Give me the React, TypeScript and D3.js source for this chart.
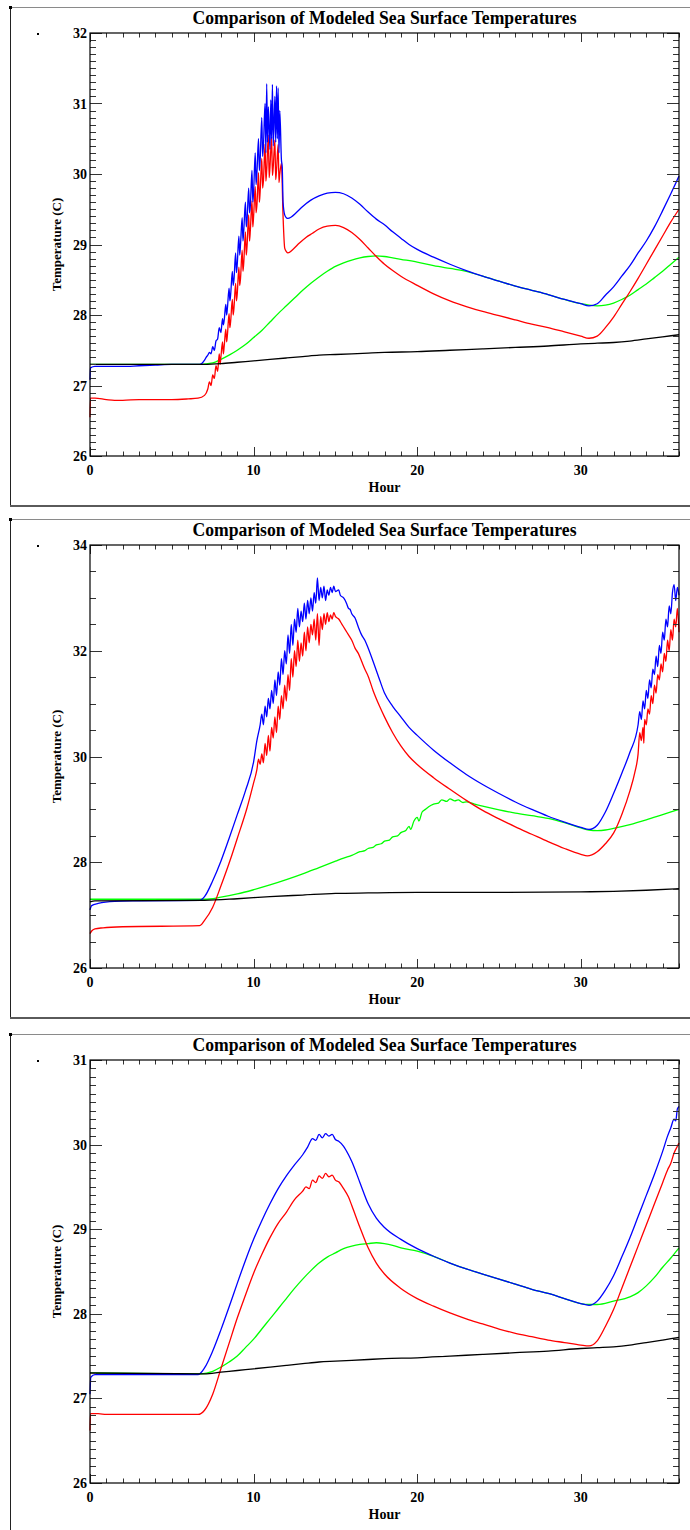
import React from "react";
import * as d3 from "d3";

type Pt = [number, number];

// ---------- tick labels ----------
const xTickLabels = [0, 10, 20, 30];
const p1YTicks = [26, 27, 28, 29, 30, 31, 32];
const p2YTicks = [26, 28, 30, 32, 34];
const p3YTicks = [26, 27, 28, 29, 30, 31];

const TITLE = "Comparison of Modeled Sea Surface Temperatures";
const XTITLE = "Hour";
const YTITLE = "Temperature (C)";

// ---------- Panel 1 ----------
const p1Blue: Pt[] = [
  [0, 27.08], [0.03, 27.25], [0.3, 27.27], [1, 27.27], [2, 27.27], [3, 27.28], [4, 27.29], [5, 27.3], [6, 27.3], [6.7, 27.3],
  [7.0, 27.36], [7.1, 27.4], [7.2, 27.43], [7.3, 27.47], [7.4, 27.45], [7.5, 27.55], [7.6, 27.5], [7.7, 27.63], [7.8, 27.66], [7.9, 27.82],
  [8.0, 27.75], [8.1, 27.95], [8.15, 27.86], [8.2, 27.92], [8.3, 28.15], [8.35, 28.0], [8.4, 28.1], [8.5, 28.38], [8.55, 28.2], [8.6, 28.3],
  [8.7, 28.62], [8.75, 28.42], [8.8, 28.5], [8.9, 28.88], [8.95, 28.6], [9.0, 28.72], [9.1, 29.12], [9.15, 28.85], [9.2, 29.0], [9.3, 29.38],
  [9.35, 29.05], [9.4, 29.2], [9.5, 29.6], [9.55, 29.25], [9.6, 29.35], [9.7, 29.8], [9.75, 29.45], [9.8, 29.55], [9.9, 30.05], [9.95, 29.6],
  [10.0, 29.75], [10.1, 30.3], [10.15, 29.85], [10.2, 30.0], [10.3, 30.5], [10.35, 30.05], [10.4, 30.2], [10.5, 30.8], [10.55, 30.25], [10.6, 30.4],
  [10.7, 31.0], [10.75, 30.3], [10.8, 31.28], [10.85, 30.45], [10.9, 30.95], [11.0, 30.35], [11.05, 31.05], [11.1, 30.5], [11.15, 31.27], [11.2, 30.4],
  [11.3, 31.1], [11.35, 30.45], [11.4, 31.25], [11.45, 30.5], [11.5, 31.22], [11.55, 30.3], [11.6, 30.9], [11.7, 30.2], [11.75, 30.1], [11.8, 29.6],
  [11.9, 29.42], [12.0, 29.38], [12.1, 29.37],
  [12.3, 29.39], [12.6, 29.45], [13.0, 29.54], [13.5, 29.63], [14.0, 29.69], [14.5, 29.73], [15.0, 29.74], [15.5, 29.72], [16.0, 29.66], [16.5, 29.57],
  [17.0, 29.46], [17.5, 29.36], [18.0, 29.28], [18.5, 29.18], [19.0, 29.09], [19.5, 29.0], [20, 28.93], [21, 28.82], [22, 28.72], [23, 28.63],
  [24, 28.55], [25, 28.48], [26, 28.41], [27, 28.35], [28, 28.29], [29, 28.22], [30, 28.16], [30.5, 28.13], [31, 28.16], [31.5, 28.28],
  [32, 28.4], [32.5, 28.55], [33, 28.7], [33.5, 28.88], [34, 29.05], [34.5, 29.25], [35, 29.48], [35.5, 29.72], [36, 29.97],
];
const p1Red: Pt[] = [
  [0, 26.55], [0.03, 26.82], [0.3, 26.82], [1, 26.8], [1.5, 26.79], [2, 26.79], [3, 26.8], [4, 26.8], [5, 26.8], [6, 26.81], [6.6, 26.82],
  [7.0, 26.86], [7.2, 26.95], [7.3, 27.05], [7.4, 27.0], [7.5, 27.15], [7.6, 27.1], [7.7, 27.28], [7.8, 27.2], [7.9, 27.45],
  [7.95, 27.3], [8.0, 27.4], [8.1, 27.62], [8.15, 27.45], [8.2, 27.55], [8.3, 27.8], [8.35, 27.62], [8.4, 27.72], [8.5, 28.02], [8.55, 27.82],
  [8.6, 27.92], [8.7, 28.22], [8.75, 28.0], [8.8, 28.1], [8.9, 28.45], [8.95, 28.2], [9.0, 28.3], [9.1, 28.68], [9.15, 28.42], [9.2, 28.52],
  [9.3, 28.92], [9.35, 28.62], [9.4, 28.75], [9.5, 29.18], [9.55, 28.85], [9.6, 28.98], [9.7, 29.42], [9.75, 29.05], [9.8, 29.2], [9.9, 29.62],
  [9.95, 29.25], [10.0, 29.4], [10.1, 29.82], [10.15, 29.45], [10.2, 29.55], [10.3, 30.02], [10.35, 29.6], [10.4, 29.75], [10.5, 30.22], [10.55, 29.8],
  [10.6, 29.9], [10.7, 30.42], [10.75, 29.9], [10.8, 30.05], [10.9, 30.55], [10.95, 29.95], [11.0, 30.1], [11.1, 30.52], [11.15, 29.98], [11.2, 30.1],
  [11.3, 30.48], [11.35, 29.92], [11.4, 30.05], [11.5, 30.42], [11.55, 29.88], [11.6, 30.0], [11.7, 30.15], [11.8, 29.4], [11.9, 28.95],
  [12.0, 28.9], [12.1, 28.88], [12.4, 28.93], [12.8, 29.02], [13.2, 29.1], [13.6, 29.16], [14.0, 29.22], [14.5, 29.26], [15.0, 29.27], [15.5, 29.24],
  [16.0, 29.17], [16.5, 29.07], [17.0, 28.95], [17.5, 28.83], [18.0, 28.72], [18.5, 28.63], [19.0, 28.55], [20, 28.42], [21, 28.3], [22, 28.2],
  [23, 28.12], [24, 28.05], [25, 27.99], [26, 27.93], [27, 27.87], [28, 27.82], [29, 27.76], [30, 27.7], [30.5, 27.67], [31, 27.7],
  [31.5, 27.82], [32, 27.97], [32.5, 28.15], [33, 28.33], [33.5, 28.52], [34, 28.72], [34.5, 28.92], [35, 29.12], [35.5, 29.32], [36, 29.5],
];
const p1Green: Pt[] = [
  [0, 27.3], [3, 27.3], [6.7, 27.3], [7.5, 27.32], [8, 27.37], [8.5, 27.43], [9, 27.5], [9.5, 27.58], [10, 27.68], [10.5, 27.78],
  [11, 27.9], [11.5, 28.02], [12, 28.13], [12.5, 28.24], [13, 28.35], [13.5, 28.45], [14, 28.54], [14.5, 28.62], [15, 28.69], [15.5, 28.74],
  [16, 28.78], [16.5, 28.81], [17, 28.83], [17.5, 28.84], [18, 28.83], [18.5, 28.81], [19, 28.79], [20, 28.75], [21, 28.7], [22, 28.66],
  [23, 28.62], [24, 28.55], [25, 28.48], [26, 28.41], [27, 28.35], [28, 28.29], [29, 28.22], [30, 28.16], [30.5, 28.14], [31, 28.13],
  [31.5, 28.14], [32, 28.17], [32.5, 28.22], [33, 28.28], [33.5, 28.36], [34, 28.44], [34.5, 28.53], [35, 28.62], [35.5, 28.72], [36, 28.82],
];
const p1Black: Pt[] = [
  [0, 27.3], [7, 27.3], [8, 27.31], [9, 27.33], [10, 27.35], [11, 27.37], [12, 27.39], [13, 27.41], [14, 27.43], [15, 27.44],
  [16, 27.45], [17, 27.46], [18, 27.47], [20, 27.48], [22, 27.5], [24, 27.52], [26, 27.54], [28, 27.56], [30, 27.59], [31, 27.6],
  [32, 27.61], [33, 27.63], [34, 27.66], [35, 27.69], [36, 27.72],
];

// ---------- Panel 2 ----------
const p2Blue: Pt[] = [
  [0, 27.1], [0.1, 27.18], [0.5, 27.22], [1.5, 27.26], [3, 27.27], [6.7, 27.28], [7, 27.35], [7.5, 27.65], [8, 28.02], [8.5, 28.45],
  [9, 28.9], [9.5, 29.35], [10, 29.9], [10.2, 30.3], [10.4, 30.6],
  [10.5, 30.8], [10.6, 30.6], [10.7, 30.95], [10.8, 30.75], [10.9, 31.1], [11.0, 30.9], [11.1, 31.25], [11.2, 31.0], [11.3, 31.45], [11.4, 31.15],
  [11.5, 31.6], [11.6, 31.35], [11.7, 31.85], [11.8, 31.55], [11.9, 32.0], [12.0, 31.75], [12.1, 32.3], [12.2, 31.95], [12.3, 32.5], [12.4, 32.1],
  [12.5, 32.6], [12.6, 32.35], [12.7, 32.8], [12.8, 32.45], [12.9, 32.75], [13.0, 32.55], [13.1, 32.9], [13.2, 32.6], [13.3, 32.95], [13.4, 32.7],
  [13.5, 33.0], [13.6, 32.75], [13.7, 33.1], [13.8, 32.9], [13.9, 33.38], [14.0, 32.95], [14.1, 33.2], [14.2, 33.0], [14.3, 33.22], [14.4, 32.95],
  [14.5, 33.15], [14.6, 33.05], [14.7, 33.2], [14.8, 33.1], [14.9, 33.22], [15.0, 33.12], [15.2, 33.15], [15.3, 33.05], [15.5, 33.0], [15.6, 32.95],
  [15.7, 32.88], [15.8, 32.8], [15.9, 32.78], [16.0, 32.7], [16.2, 32.62], [16.4, 32.45], [16.6, 32.3], [16.8, 32.2], [17.0, 32.05], [17.3, 31.8],
  [17.7, 31.45], [18, 31.2], [18.5, 30.95], [19, 30.75], [19.5, 30.55], [20, 30.4], [21, 30.12], [22, 29.88], [23, 29.66], [24, 29.47],
  [25, 29.3], [26, 29.14], [27, 29.0], [28, 28.87], [29, 28.76], [30, 28.66], [30.5, 28.62], [31, 28.7], [31.5, 28.95], [32, 29.3],
  [32.5, 29.68], [33, 30.08], [33.5, 30.6],
  [33.6, 30.85], [33.7, 30.7], [33.8, 31.05], [33.9, 30.9], [34.0, 31.25], [34.1, 31.1], [34.2, 31.45], [34.3, 31.3], [34.4, 31.65], [34.5, 31.55],
  [34.6, 31.9], [34.7, 31.7], [34.8, 32.1], [34.9, 31.95], [35.0, 32.35], [35.1, 32.2], [35.2, 32.6], [35.3, 32.45], [35.4, 32.85], [35.5, 32.7],
  [35.6, 33.1], [35.7, 33.25], [35.8, 32.95], [35.9, 33.2], [36.0, 33.05],
];
const p2Red: Pt[] = [
  [0, 26.65], [0.1, 26.7], [0.3, 26.74], [0.8, 26.76], [2, 26.78], [6.7, 26.8], [7.0, 26.9], [7.5, 27.15], [8.0, 27.55], [8.6, 28.07],
  [9.0, 28.45], [9.6, 29.03], [10.0, 29.5], [10.2, 29.75],
  [10.3, 29.95], [10.4, 29.85], [10.5, 30.05], [10.6, 29.88], [10.7, 30.25], [10.8, 30.02], [10.9, 30.4], [11.0, 30.1], [11.1, 30.55], [11.2, 30.35],
  [11.3, 30.75], [11.4, 30.45], [11.5, 30.95], [11.6, 30.7], [11.7, 31.15], [11.8, 30.9], [11.9, 31.35], [12.0, 31.05], [12.1, 31.55], [12.2, 31.25],
  [12.3, 31.85], [12.4, 31.5], [12.5, 32.0], [12.6, 31.7], [12.7, 32.2], [12.8, 31.8], [12.9, 32.15], [13.0, 31.9], [13.1, 32.35], [13.2, 32.0],
  [13.3, 32.45], [13.4, 32.15], [13.5, 32.5], [13.6, 32.3], [13.7, 32.6], [13.8, 32.2], [13.9, 32.7], [14.0, 32.1], [14.1, 32.65], [14.2, 32.4],
  [14.3, 32.7], [14.4, 32.5], [14.5, 32.72], [14.6, 32.55], [14.7, 32.68], [14.8, 32.6], [14.9, 32.72], [15.0, 32.65], [15.2, 32.6], [15.4, 32.5],
  [15.6, 32.4], [15.8, 32.3], [16.0, 32.2], [16.2, 32.05], [16.4, 31.95], [16.6, 31.8], [16.8, 31.65], [17.0, 31.52], [17.3, 31.25], [17.7, 30.95],
  [18, 30.75], [18.5, 30.45], [19, 30.2], [19.5, 30.0], [20, 29.85], [21, 29.6], [22, 29.38], [23, 29.17], [24, 28.98], [25, 28.82],
  [26, 28.67], [27, 28.53], [28, 28.39], [29, 28.26], [30, 28.15], [30.4, 28.12], [31, 28.2], [31.5, 28.35], [32, 28.55], [32.5, 28.9],
  [33, 29.35], [33.3, 29.7], [33.5, 30.05],
  [33.6, 30.45], [33.7, 30.3], [33.8, 30.55], [33.85, 30.25], [33.9, 30.7], [34.0, 30.6], [34.1, 30.9], [34.2, 30.8], [34.3, 31.15], [34.4, 31.0],
  [34.5, 31.35], [34.6, 31.2], [34.7, 31.55], [34.8, 31.45], [34.9, 31.75], [35.0, 31.6], [35.1, 31.95], [35.2, 31.8], [35.3, 32.2], [35.4, 32.0],
  [35.5, 32.4], [35.6, 32.2], [35.7, 32.6], [35.8, 32.45], [35.9, 32.8], [36.0, 32.35],
];
const p2Green: Pt[] = [
  [0, 27.3], [7, 27.3], [8, 27.34], [9, 27.4], [10, 27.48], [11, 27.57], [12, 27.67], [13, 27.78], [14, 27.9], [15, 28.02],
  [15.5, 28.08], [16, 28.13], [16.5, 28.2], [16.8, 28.22], [17, 28.26], [17.3, 28.28], [17.5, 28.33], [17.8, 28.35], [18, 28.4], [18.3, 28.42],
  [18.5, 28.48], [18.8, 28.5], [19, 28.56], [19.3, 28.6], [19.5, 28.68], [19.6, 28.62], [19.8, 28.78], [20, 28.85], [20.1, 28.78], [20.3, 28.95],
  [20.5, 29.0], [20.7, 29.05], [21, 29.1], [21.3, 29.12], [21.5, 29.18], [21.8, 29.15], [22, 29.2], [22.3, 29.16], [22.5, 29.18], [22.8, 29.13],
  [23, 29.14], [23.5, 29.1], [24, 29.06], [25, 28.99], [26, 28.93], [27, 28.88], [28, 28.83], [29, 28.75], [30, 28.65], [30.5, 28.61],
  [31, 28.6], [31.5, 28.61], [32, 28.64], [33, 28.71], [34, 28.8], [35, 28.9], [36, 29.0],
];
const p2Black: Pt[] = [
  [0, 27.25], [0.3, 27.27], [7, 27.28], [9, 27.31], [11, 27.35], [13, 27.38], [15, 27.41], [17, 27.42], [20, 27.43], [25, 27.43],
  [30, 27.44], [32, 27.45], [34, 27.47], [36, 27.5],
];

// ---------- Panel 3 ----------
const p3Blue: Pt[] = [
  [0, 27.05], [0.05, 27.25], [0.3, 27.28], [3, 27.28], [6.6, 27.28], [7, 27.36], [7.5, 27.56], [8, 27.81], [8.5, 28.08], [9, 28.36],
  [9.5, 28.63], [10, 28.88], [10.5, 29.1], [11, 29.3], [11.5, 29.48], [12, 29.63], [12.5, 29.76], [13, 29.88], [13.3, 29.97], [13.6, 30.07],
  [13.8, 30.05], [14.0, 30.12], [14.2, 30.08], [14.4, 30.13], [14.6, 30.1], [14.8, 30.12], [15.0, 30.06], [15.2, 30.04], [15.5, 29.98], [15.8, 29.88],
  [16, 29.8], [16.5, 29.55], [17, 29.3], [17.5, 29.13], [18, 29.02], [19, 28.88], [20, 28.77], [21, 28.68], [22, 28.6], [23, 28.53],
  [24, 28.47], [25, 28.41], [26, 28.35], [27, 28.29], [28, 28.24], [29, 28.18], [30, 28.12], [30.5, 28.1], [31, 28.15], [31.5, 28.28],
  [32, 28.45], [32.5, 28.67], [33, 28.9], [33.5, 29.15], [34, 29.4], [34.5, 29.65], [35, 29.92], [35.3, 30.1], [35.5, 30.2], [35.7, 30.3],
  [35.8, 30.28], [35.9, 30.42], [36, 30.45],
];
const p3Red: Pt[] = [
  [0, 26.62], [0.03, 26.82], [0.5, 26.82], [1, 26.81], [6.6, 26.81], [7, 26.86], [7.5, 27.05], [8, 27.35], [8.5, 27.65], [9, 27.95],
  [9.5, 28.22], [10, 28.48], [10.5, 28.7], [11, 28.9], [11.5, 29.07], [12, 29.2], [12.5, 29.35], [13, 29.45], [13.2, 29.5], [13.4, 29.48],
  [13.6, 29.58], [13.8, 29.55], [14, 29.63], [14.2, 29.6], [14.4, 29.66], [14.6, 29.62], [14.8, 29.64], [15, 29.58], [15.2, 29.56], [15.5, 29.48],
  [15.8, 29.38], [16, 29.28], [16.5, 29.02], [17, 28.78], [17.5, 28.6], [18, 28.47], [19, 28.3], [20, 28.18], [21, 28.09], [22, 28.01],
  [23, 27.94], [24, 27.88], [25, 27.82], [26, 27.77], [27, 27.73], [28, 27.69], [29, 27.66], [30, 27.63], [30.5, 27.62], [31, 27.68],
  [31.5, 27.85], [32, 28.05], [32.5, 28.3], [33, 28.55], [33.5, 28.8], [34, 29.05], [34.5, 29.3], [35, 29.55], [35.3, 29.7], [35.5, 29.78],
  [35.7, 29.9], [35.9, 29.98], [36, 30.02],
];
const p3Green: Pt[] = [
  [0, 27.3], [6.8, 27.29], [7.5, 27.32], [8, 27.37], [8.5, 27.43], [9, 27.5], [9.5, 27.6], [10, 27.7], [10.5, 27.82], [11, 27.94],
  [11.5, 28.06], [12, 28.18], [12.5, 28.3], [13, 28.41], [13.5, 28.51], [14, 28.6], [14.5, 28.67], [15, 28.72], [15.5, 28.77], [16, 28.8],
  [16.5, 28.82], [17, 28.83], [17.5, 28.84], [18, 28.83], [18.5, 28.81], [19, 28.78], [20, 28.74], [21, 28.68], [22, 28.6], [23, 28.53],
  [24, 28.47], [25, 28.41], [26, 28.35], [27, 28.29], [28, 28.24], [29, 28.18], [30, 28.12], [30.5, 28.11], [31, 28.11], [32, 28.15],
  [33, 28.2], [33.5, 28.25], [34, 28.33], [34.5, 28.43], [35, 28.55], [35.5, 28.66], [36, 28.78],
];
const p3Black: Pt[] = [
  [0, 27.3], [7, 27.29], [8, 27.31], [9, 27.33], [10, 27.35], [11, 27.37], [12, 27.39], [13, 27.41], [14, 27.43], [15, 27.44],
  [16, 27.45], [17, 27.46], [18, 27.47], [20, 27.48], [22, 27.5], [24, 27.52], [26, 27.54], [28, 27.56], [30, 27.59], [31, 27.6],
  [32, 27.61], [33, 27.63], [34, 27.66], [35, 27.69], [36, 27.72],
];

const COLORS = { green: "#00ff00", red: "#ff0000", blue: "#0000ff", black: "#000000" };

const panels = [
  { frameTop: 7, yDomain: [26, 32], yTicks: p1YTicks, yMinor: 0.1, series: { green: p1Green, red: p1Red, blue: p1Blue, black: p1Black }, bottomFrame: true },
  { frameTop: 519, yDomain: [26, 34], yTicks: p2YTicks, yMinor: 0.5, series: { green: p2Green, red: p2Red, blue: p2Blue, black: p2Black }, bottomFrame: true },
  { frameTop: 1034, yDomain: [26, 31], yTicks: p3YTicks, yMinor: 0.1, series: { green: p3Green, red: p3Red, blue: p3Blue, black: p3Black }, bottomFrame: false },
];

const FONT = "'Liberation Serif', 'Times New Roman', serif";
const LEFT = 90;
const RIGHT = 679;
const PLOT_H = 423;
const FRAME_H = 499;

function Panel({ p }: { p: (typeof panels)[number] }) {
  const top = p.frameTop + 26;
  const bottom = top + PLOT_H;
  const x = d3.scaleLinear().domain([0, 36]).range([LEFT, RIGHT]);
  const y = d3.scaleLinear().domain(p.yDomain).range([bottom, top]);
  const line = d3
    .line<Pt>()
    .x((d) => x(d[0]))
    .y((d) => y(d[1]))
    .curve(d3.curveMonotoneX);
  const xMinor = d3.range(0, 36.001, 1);
  const yMinor = d3.range(p.yDomain[0], p.yDomain[1] + 1e-6, p.yMinor).map((v) => +v.toFixed(3));
  const order: (keyof typeof COLORS)[] = ["green", "red", "blue", "black"];
  const midY = (top + bottom) / 2;
  return (
    <g>
      {/* frame */}
      <line x1={10} x2={690} y1={p.frameTop + 0.5} y2={p.frameTop + 0.5} stroke="#8a8a8a" strokeWidth={1} />
      <line x1={10.5} x2={10.5} y1={p.frameTop} y2={p.bottomFrame ? p.frameTop + FRAME_H : 1530} stroke="#222" strokeWidth={1} />
      {p.bottomFrame && (
        <line x1={10} x2={690} y1={p.frameTop + FRAME_H} y2={p.frameTop + FRAME_H} stroke="#5a5a5a" strokeWidth={2} />
      )}
      <rect x={9} y={p.frameTop - 1} width={3} height={3} fill="#000" />
      <rect x={37} y={top} width={2} height={2} fill="#000" />

      {/* title */}
      <text x={(LEFT + RIGHT) / 2} y={p.frameTop + 17} textAnchor="middle" fontFamily={FONT} fontWeight="bold" fontSize={18}
        textLength={384} lengthAdjust="spacingAndGlyphs">
        {TITLE}
      </text>

      {/* data */}
      <g>
        {order.map((k) => (
          <path key={k} d={line(p.series[k]) || ""} fill="none" stroke={COLORS[k]} strokeWidth={1.3} strokeLinejoin="round" />
        ))}
      </g>

      {/* x ticks */}
      {xMinor.map((v) => {
        const major = v % 10 === 0;
        const len = major ? 9 : 4.5;
        const xx = Math.round(x(v)) + 0.5;
        return (
          <g key={"x" + v}>
            <line x1={xx} x2={xx} y1={bottom} y2={bottom - len} stroke="#333" strokeWidth={1} />
            <line x1={xx} x2={xx} y1={top} y2={top + len} stroke="#333" strokeWidth={1} />
          </g>
        );
      })}
      {/* y ticks */}
      {yMinor.map((v) => {
        const major = p.yTicks.some((t) => Math.abs(t - v) < 1e-6);
        const len = major ? 12 : 6;
        const yy = Math.round(y(v)) + 0.5;
        return (
          <g key={"y" + v}>
            <line x1={LEFT} x2={LEFT + len} y1={yy} y2={yy} stroke="#333" strokeWidth={1} />
            <line x1={RIGHT} x2={RIGHT - len} y1={yy} y2={yy} stroke="#333" strokeWidth={1} />
          </g>
        );
      })}
      {/* axis box */}
      <rect x={LEFT} y={top} width={RIGHT - LEFT} height={bottom - top} fill="none" stroke="#000" strokeWidth={1.2} />

      {/* tick labels */}
      {xTickLabels.map((v) => (
        <text key={"xl" + v} x={x(v)} y={bottom + 19} textAnchor="middle" fontFamily={FONT} fontWeight="bold" fontSize={14}>
          {v}
        </text>
      ))}
      {p.yTicks.map((v) => (
        <text key={"yl" + v} x={87} y={y(v) + 5} textAnchor="end" fontFamily={FONT} fontWeight="bold" fontSize={14}>
          {v}
        </text>
      ))}
      <text x={(LEFT + RIGHT) / 2} y={bottom + 36} textAnchor="middle" fontFamily={FONT} fontWeight="bold" fontSize={14}>
        {XTITLE}
      </text>
      <text
        transform={`translate(61,${midY}) rotate(-90)`}
        textAnchor="middle"
        fontFamily={FONT}
        fontWeight="bold"
        fontSize={13}
      >
        {YTITLE}
      </text>
    </g>
  );
}

export default function App() {
  return (
    <svg width={690} height={1530} style={{ position: "absolute", left: 0, top: 0, background: "#fff" }}>
      <rect width={690} height={1530} fill="#fff" />
      {panels.map((p, i) => (
        <Panel key={i} p={p} />
      ))}
    </svg>
  );
}
